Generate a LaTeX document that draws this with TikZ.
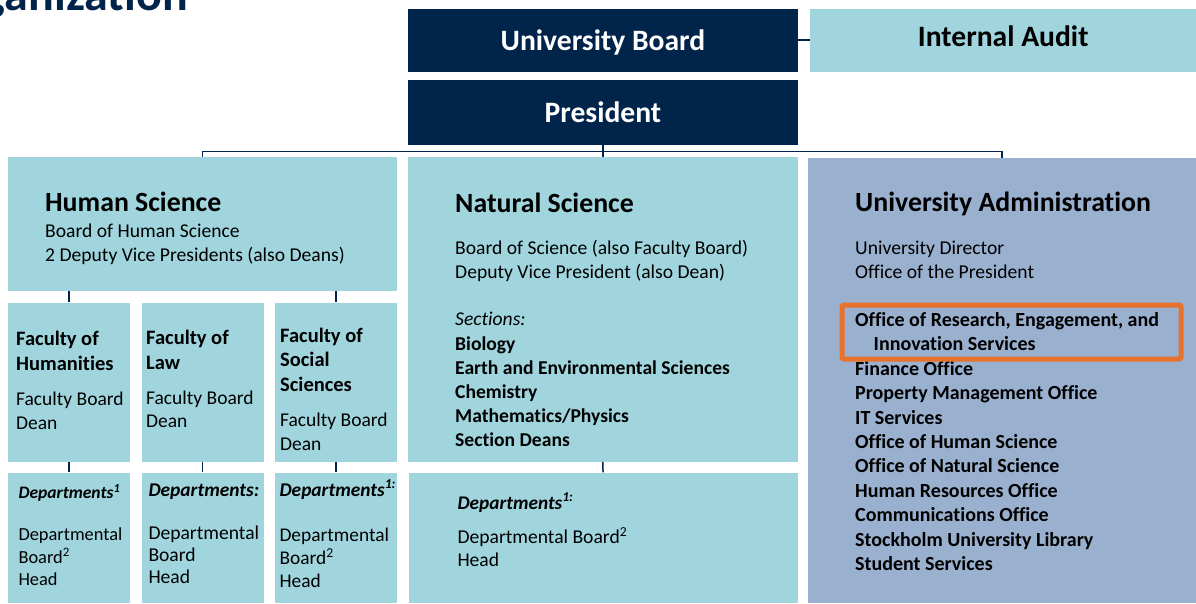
\documentclass[tikz,border=0pt]{standalone}
\usepackage{fontspec}
\usepackage{xcolor}
\setmainfont{Carlito}[Ligatures=NoCommon]

\definecolor{navy}{RGB}{0,36,74}
\definecolor{paleteal}{RGB}{160,213,222}
\definecolor{slateblue}{RGB}{154,176,207}
\definecolor{flame}{RGB}{232,113,43}

% fixed height for the first line of a text block
\newcommand{\ystrut}{\rule{0pt}{16pt}}

\tikzset{
  navybox/.style={fill=navy, text=white, inner sep=0, anchor=north west, text depth=0pt,
    font=\fontsize{29.6}{34}\selectfont\bfseries},
  tealbox/.style={fill=paleteal, inner sep=0, anchor=north west},
  greybox/.style={fill=slateblue, inner sep=0, anchor=north west},
  link/.style={draw=navy, line width=1.5pt},
  hilite/.style={draw=flame, line width=5pt, rounded corners=2pt},
  headtext/.style={anchor=base west, inner sep=0, font=\fontsize{27.8}{33}\selectfont\bfseries},
  blocktext/.style 2 args={anchor=north west, inner sep=0, align=left, font=\fontsize{#1}{#2}\selectfont},
  boldblock/.style={anchor=north west, inner sep=0, align=left, font=\fontsize{20}{#1}\selectfont\bfseries},
  fachead/.style={anchor=north west, inner sep=0, align=left, font=\fontsize{20.5}{#1}\selectfont\bfseries},
  depthead/.style={anchor=base west, inner sep=0, font=\fontsize{#1}{21}\selectfont\bfseries\itshape}
}

\begin{document}
\begin{tikzpicture}[x=1pt, y=-1pt]

    \useasboundingbox (0,0) rectangle (1196,603);

    % ==========================================
    % TOP: Board, Audit, President
    % ==========================================

    % Page title, cut by the top edge
    \node[anchor=base east, inner sep=0, text=navy, font=\fontsize{48}{54}\selectfont\bfseries] (title) at (188,10) {Organization};

    \node[navybox, minimum width=389.5, minimum height=63, text height=20pt] (board) at (408,8.5) {University Board};
    \node[tealbox, minimum width=386, minimum height=63, text height=12pt, text depth=0pt,
      font=\fontsize{29.6}{34}\selectfont\bfseries] (audit) at (810,8.5) {Internal Audit};
    \node[navybox, minimum width=389.5, minimum height=65, text height=20.4pt] (pres) at (408,80) {President};

    % ==========================================
    % MIDDLE: three areas
    % ==========================================

    \node[tealbox, minimum width=389, minimum height=134] (hs) at (8,157) {};
    \node[tealbox, minimum width=389.5, minimum height=304.5] (ns) at (408,157) {};
    \node[greybox, minimum width=388, minimum height=445] (admin) at (808,158) {};

    % Human Science
    \node[headtext] (hs-title) at (45,211.7) {Human Science};
    \node[blocktext={19.6}{23.7}] (hs-text) at (45,221.3) {\ystrut Board of Human Science\\2 Deputy Vice Presidents (also Deans)};

    % Natural Science
    \node[headtext] (ns-title) at (455,212) {Natural Science};
    \node[blocktext={19.6}{24.3}] (ns-text) at (455,238) {\ystrut Board of Science (also Faculty Board)\\Deputy Vice President (also Dean)};
    \node[blocktext={19.6}{24.2}] (ns-sect) at (455,309.7) {\ystrut\textit{Sections:}\\\textbf{Biology}\\\textbf{Earth and Environmental Sciences}\\\textbf{Chemistry}\\\textbf{Mathematics/Physics}\\\textbf{Section Deans}};

    % University Administration
    \node[headtext] (ad-title) at (855,211) {University Administration};
    \node[blocktext={19.6}{24.2}] (ad-text) at (855,238.3) {\ystrut University Director\\Office of the President};
    \node[boldblock=24.45] (ad-list) at (855,310) {\ystrut Office of Research, Engagement, and\\\hspace*{18.5pt}Innovation Services\\Finance Office\\Property Management Office\\IT Services\\Office of Human Science\\Office of Natural Science\\Human Resources Office\\Communications Office\\Stockholm University Library\\Student Services};
    \draw[hilite] (842,305) rectangle (1181,359);

    % ==========================================
    % FACULTIES
    % ==========================================

    \node[tealbox, minimum width=122, minimum height=159.4] (hum) at (8,302.3) {};
    \node[tealbox, minimum width=121.6, minimum height=159.4] (law) at (141.7,302.3) {};
    \node[tealbox, minimum width=122, minimum height=159.4] (soc) at (275,302.3) {};

    \node[fachead=25] (hum-head) at (16,329.7) {\ystrut Faculty of\\Humanities};
    \node[blocktext={19.5}{23.3}] (hum-text) at (16,389.7) {\ystrut Faculty Board\\Dean};
    \node[fachead=25] (law-head) at (146,328) {\ystrut Faculty of\\Law};
    \node[blocktext={19.5}{23.3}] (law-text) at (146,388) {\ystrut Faculty Board\\Dean};
    \node[fachead=24.3] (soc-head) at (280,326.3) {\ystrut Faculty of\\Social\\Sciences};
    \node[blocktext={19.5}{23.3}] (soc-text) at (280,410.7) {\ystrut Faculty Board\\Dean};

    % ==========================================
    % DEPARTMENTS
    % ==========================================

    \node[tealbox, minimum width=122, minimum height=130.7] (hum-dep) at (8,472.3) {};
    \node[tealbox, minimum width=121.6, minimum height=130.7] (law-dep) at (141.7,472.3) {};
    \node[tealbox, minimum width=122, minimum height=130.7] (soc-dep) at (275,472.3) {};
    \node[tealbox, minimum width=389, minimum height=130.7] (ns-dep) at (408.3,472.3) {};

    \node[depthead=17.5] (hum-dep-head) at (18.3,498.3) {Departments\textsuperscript{1}};
    \node[blocktext={18.4}{22.2}] (hum-dep-text) at (18.3,524.7) {\ystrut Departmental\\Board\textsuperscript{2}\\Head};
    \node[depthead=19.4] (law-dep-head) at (148.3,496.7) {Departments:};
    \node[blocktext={19.6}{22.2}] (law-dep-text) at (148.3,523) {\ystrut Departmental\\Board\\Head};
    \node[depthead=19.4] (soc-dep-head) at (279.3,496) {Departments\textsuperscript{1:}};
    \node[blocktext={19.4}{22.8}] (soc-dep-text) at (279.3,525.7) {\ystrut Departmental\\Board\textsuperscript{2}\\Head};
    \node[depthead=19.3] (ns-dep-head) at (457.3,509) {Departments\textsuperscript{1:}};
    \node[blocktext={19.6}{22.7}] (ns-dep-text) at (457.3,527.3) {\ystrut Departmental Board\textsuperscript{2}\\Head};

    % ==========================================
    % CONNECTORS
    % ==========================================

    \draw[link] (board.east) -- (audit.west);
    \coordinate (bus) at ([yshift=-6pt]pres.south);
    \draw[link] (pres.south) -- (ns.north);
    \draw[link] (hs.north) |- (bus) -| (admin.north);

    \draw[link] (hs.south -| hum.north) -- (hum.north);
    \draw[link] (hs.south -| soc.north) -- (soc.north);

    \draw[link] (hum.south) -- (hum-dep.north);
    \draw[link] (law.south) -- (law-dep.north);
    \draw[link] (soc.south) -- (soc-dep.north);
    \draw[link] (ns.south) -- (ns-dep.north);

\end{tikzpicture}
\end{document}
